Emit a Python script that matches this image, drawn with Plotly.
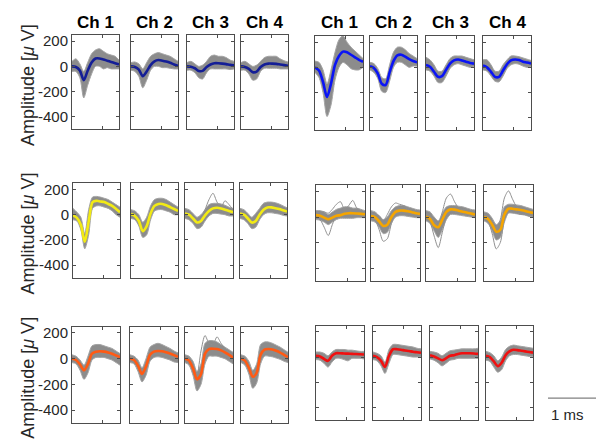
import plotly.graph_objects as go

W, H = 601, 444

# time axis (ms) of each sample
t_ms = [0.0, 0.083, 0.167, 0.25, 0.333, 0.417, 0.5, 0.583, 0.667, 0.75, 0.833, 0.917, 1.0]
channels = ["Ch 1", "Ch 2", "Ch 3", "Ch 4"]
y_ticks = [-400, -200, 0, 200]
y_tick_text = ["-400", "-200", "0", "200"]
y_range = [-500, 250]

# ---- mean waveforms (uV) per channel ----
mean_r1_left = [
    [0, -5, -33, -110, -35, 30, 62, 63, 55, 45, 35, 25, 15],
    [0, -5, -25, -78, -40, 10, 40, 50, 45, 38, 28, 15, 5],
    [0, -3, -15, -36, -36, -5, 15, 25, 25, 22, 18, 12, 8],
    [0, -5, -20, -46, -42, -5, 15, 22, 22, 20, 15, 10, 5],
]
upper_r1_left = [
    [40, 60, 20, -40, 30, 100, 130, 140, 120, 100, 90, 80, 50],
    [30, 35, 20, -20, 30, 80, 100, 110, 100, 90, 80, 60, 40],
    [30, 40, 20, 0, 10, 40, 80, 90, 80, 80, 70, 50, 40],
    [30, 40, 20, 0, 10, 40, 70, 80, 80, 80, 60, 45, 35],
]
lower_r1_left = [
    [-40, -40, -90, -250, -150, -60, 0, 0, -20, -10, -20, -20, -20],
    [-30, -40, -80, -170, -110, -30, 0, 0, -10, -10, -15, -20, -20],
    [-30, -30, -50, -90, -100, -50, -20, -20, -20, -20, -20, -25, -20],
    [-30, -30, -60, -110, -100, -40, -15, -15, -15, -15, -20, -20, -20],
]

mean_r1_right = [
    [0, -25, -115, -235, -130, 20, 90, 125, 120, 100, 80, 60, 45],
    [10, -5, -50, -130, -140, -40, 50, 95, 100, 85, 65, 50, 40],
    [20, 5, -35, -75, -70, -20, 30, 55, 62, 55, 45, 35, 30],
    [15, 0, -35, -75, -75, -25, 25, 55, 62, 58, 45, 38, 30],
]
upper_r1_right = [
    [50, 40, -20, -130, -20, 120, 220, 250, 200, 160, 130, 100, 70],
    [40, 30, -10, -80, -90, 20, 120, 160, 160, 140, 110, 90, 70],
    [80, 60, 20, -30, -30, 20, 70, 90, 90, 90, 80, 70, 60],
    [60, 60, 20, -30, -30, 20, 60, 90, 90, 85, 75, 65, 55],
]
lower_r1_right = [
    [-40, -80, -200, -390, -300, -100, 0, 40, 20, -10, -20, -20, 0],
    [-20, -40, -90, -190, -200, -110, 0, 40, 40, 20, 0, 10, 10],
    [-20, -30, -70, -120, -120, -70, -10, 20, 30, 20, 10, 0, 5],
    [-20, -30, -70, -110, -115, -70, -10, 20, 30, 25, 10, 0, 5],
]

mean_r2_left = [
    [-5, -25, -80, -215, -55, 100, 110, 105, 100, 85, 70, 45, 20],
    [5, -10, -50, -130, -90, 10, 70, 85, 85, 75, 60, 45, 30],
    [10, 0, -30, -62, -50, -5, 30, 50, 55, 50, 40, 30, 20],
    [10, 0, -30, -62, -50, 0, 40, 58, 58, 52, 45, 35, 25],
]
upper_r2_left = [
    [50, 20, -20, -150, 40, 140, 145, 140, 130, 120, 100, 80, 60],
    [40, 30, 0, -60, -20, 70, 120, 130, 130, 120, 100, 80, 60],
    [50, 40, 10, -20, 0, 40, 80, 90, 90, 85, 75, 60, 50],
    [50, 40, 10, -20, 10, 50, 90, 100, 100, 95, 85, 70, 55],
]
lower_r2_left = [
    [-40, -50, -120, -270, -160, 50, 70, 70, 60, 50, 30, 0, -20],
    [-30, -40, -90, -180, -160, -40, 30, 40, 40, 30, 20, 0, 0],
    [-30, -40, -70, -110, -100, -50, -10, 10, 10, 5, 0, -10, -10],
    [-30, -40, -70, -110, -100, -40, 0, 15, 15, 10, 5, -5, -10],
]

mean_r2_right = [
    [15, 10, -5, -18, -5, 10, 15, 25, 30, 30, 28, 25, 22],
    [8, 0, -35, -70, -60, 0, 40, 50, 50, 45, 38, 30, 25],
    [3, -15, -65, -80, -20, 40, 60, 58, 50, 42, 35, 28, 20],
    [0, -15, -60, -115, -100, 20, 65, 65, 60, 55, 48, 40, 32],
]
upper_r2_right = [
    [50, 50, 40, 20, 40, 60, 70, 80, 80, 70, 70, 60, 50],
    [50, 40, 10, -20, 0, 50, 80, 90, 90, 80, 70, 60, 55],
    [50, 40, 0, -30, 30, 80, 90, 90, 85, 80, 70, 60, 55],
    [40, 30, -10, -60, -30, 80, 100, 100, 95, 90, 80, 70, 60],
]
lower_r2_right = [
    [-20, -25, -40, -60, -40, -20, -10, -10, -10, -10, -5, -5, -5],
    [-30, -40, -80, -130, -120, -50, 0, 10, 10, 5, 0, -5, -5],
    [-30, -50, -110, -160, -100, -20, 20, 20, 15, 10, 5, 0, -5],
    [-30, -50, -110, -180, -160, -40, 30, 30, 25, 20, 15, 5, 0],
]

mean_r3_left = [
    [0, -10, -45, -90, -40, 40, 55, 58, 55, 48, 38, 25, 12],
    [0, -10, -55, -118, -60, 30, 55, 60, 58, 50, 40, 28, 15],
    [0, -15, -75, -160, -120, 40, 75, 78, 75, 65, 50, 30, 10],
    [0, -15, -70, -140, -110, 30, 70, 75, 72, 62, 48, 30, 12],
]
upper_r3_left = [
    [30, 20, -10, -50, 20, 100, 110, 110, 100, 90, 80, 60, 40],
    [30, 20, -10, -70, 0, 90, 110, 120, 110, 95, 80, 60, 45],
    [30, 20, -20, -100, -40, 120, 140, 140, 130, 110, 90, 70, 50],
    [30, 20, -20, -90, -40, 110, 130, 130, 120, 105, 90, 70, 50],
]
lower_r3_left = [
    [-30, -40, -90, -160, -110, -10, 10, 10, 10, 0, -10, -30, -50],
    [-30, -40, -100, -180, -130, -20, 10, 15, 10, 0, -10, -25, -30],
    [-30, -50, -130, -250, -200, -40, 20, 20, 20, 10, 0, -20, -40],
    [-30, -50, -120, -230, -190, -40, 20, 20, 15, 5, -5, -20, -30],
]

mean_r3_right = [
    [10, 5, -15, -30, 10, 30, 30, 28, 27, 25, 24, 22, 20],
    [10, 0, -30, -78, 10, 62, 62, 58, 52, 48, 42, 38, 34],
    [15, 5, -10, -25, -10, 10, 15, 25, 30, 30, 30, 28, 25],
    [10, 0, -35, -72, -45, 15, 45, 58, 55, 50, 45, 40, 35],
]
upper_r3_right = [
    [40, 40, 30, 10, 40, 60, 60, 60, 55, 55, 50, 45, 45],
    [40, 30, 10, -40, 60, 100, 100, 95, 90, 85, 80, 70, 65],
    [45, 40, 30, 10, 30, 50, 55, 60, 65, 65, 65, 65, 70],
    [45, 35, 10, -30, 0, 60, 85, 95, 90, 85, 80, 75, 70],
]
lower_r3_right = [
    [-20, -25, -50, -80, -40, -10, -10, -20, -30, -10, -10, -10, -15],
    [-20, -30, -70, -130, -50, 20, 20, 15, 10, 5, 0, 0, 0],
    [-15, -25, -45, -70, -50, -25, -20, -10, -10, -10, -10, -10, -10],
    [-25, -35, -80, -120, -100, -30, 10, 20, 20, 15, 10, 5, 5],
]

# ---- a few visible outlier traces: (row, group, channel) -> traces ----
outliers = {
    (1, 0, 2): [[20, 10, -20, -50, -30, 40, 120, 170, 100, 60, 110, 80, 40]],
    (1, 1, 0): [[0, -20, -80, -145, -60, 10, 20, 30, 20, 10, 10, 10, 10],
                [30, 40, 40, 30, 60, 100, 120, 60, 90, 130, 70, 50, 40]],
    (1, 1, 1): [[0, -20, -100, -190, -170, -50, 30, 60, 80, 60, 40, 30, 20],
                [20, 20, 10, -30, 20, 80, 110, 100, 90, 70, 60, 50, 40]],
    (1, 1, 2): [[0, -40, -150, -240, -120, 0, 40, 40, 30, 20, 20, 10, 10],
                [20, 10, -30, -60, 40, 150, 180, 120, 70, 60, 60, 50, 40]],
    (1, 1, 3): [[0, -30, -130, -250, -200, -20, 50, 40, 30, 20, 20, 10, 10],
                [20, 10, -30, -80, -20, 150, 205, 140, 80, 60, 50, 40, 40]],
    (2, 0, 2): [[10, 0, -40, -120, 60, 180, 120, 110, 170, 120, 80, 50, 30]],
}

means = [[mean_r1_left, mean_r1_right], [mean_r2_left, mean_r2_right], [mean_r3_left, mean_r3_right]]
uppers = [[upper_r1_left, upper_r1_right], [upper_r2_left, upper_r2_right], [upper_r3_left, upper_r3_right]]
lowers = [[lower_r1_left, lower_r1_right], [lower_r2_left, lower_r2_right], [lower_r3_left, lower_r3_right]]
unit_colors = [["#141e96", "#0a14f5"], ["#f2ea14", "#f5a500"], ["#ff5a14", "#f01010"]]

# ---- panel placement (pixels) ----
col_px = [
    [[(72, 119), (131, 178), (187, 234), (241, 288)], [(315, 363), (370, 417), (426, 474), (483, 531)]],
    [[(73, 120), (131, 178), (185, 233), (240, 287)], [(316, 365), (371, 420), (426, 475), (484, 533)]],
    [[(72, 120), (130, 178), (185, 233), (241, 288)], [(316, 364), (373, 421), (430, 478), (486, 533)]],
]
row_px = [[(33, 128), (34, 129)], [(182, 277), (184, 280)], [(326, 423), (325, 420)]]

GRAY = "#8c8c8c"
EDGE = "#a4a4a4"
AX = "#4d4d4d"
FONT = "Liberation Sans, Arial, sans-serif"

fig = go.Figure()
layout = {}
n = 0
for r in range(3):
    for g in range(2):
        y0, y1 = row_px[r][g]
        for c in range(4):
            n += 1
            x0, x1 = col_px[r][g][c]
            xa = "x" if n == 1 else f"x{n}"
            ya = "y" if n == 1 else f"y{n}"
            show_lab = (g == 0 and c == 0)
            layout[f"xaxis{'' if n == 1 else n}"] = dict(
                domain=[x0 / W, x1 / W], range=[0, 1], anchor=ya,
                showline=True, linecolor=AX, linewidth=1, mirror="ticks",
                ticks="inside", ticklen=3, tickcolor=AX, tickvals=[0, 0.645, 1],
                showticklabels=False, showgrid=False, zeroline=False, fixedrange=True)
            layout[f"yaxis{'' if n == 1 else n}"] = dict(
                domain=[1 - y1 / H, 1 - y0 / H], range=y_range, anchor=xa,
                showline=True, linecolor=AX, linewidth=1, mirror="ticks",
                ticks="inside", ticklen=3, tickcolor=AX,
                tickmode="array", tickvals=y_ticks, ticktext=y_tick_text,
                showticklabels=show_lab, tickfont=dict(family=FONT, size=15, color="#262626"),
                showgrid=False, zeroline=False, fixedrange=True)
            lo = lowers[r][g][c]
            up = uppers[r][g][c]
            fig.add_trace(go.Scatter(x=t_ms, y=lo, mode="lines", xaxis=xa, yaxis=ya,
                                     line=dict(color=EDGE, width=1, shape="spline", smoothing=0.8),
                                     hoverinfo="skip", showlegend=False))
            fig.add_trace(go.Scatter(x=t_ms, y=up, mode="lines", xaxis=xa, yaxis=ya,
                                     fill="tonexty", fillcolor=GRAY,
                                     line=dict(color=EDGE, width=1, shape="spline", smoothing=0.8),
                                     hoverinfo="skip", showlegend=False))
            for tr in outliers.get((r, g, c), []):
                fig.add_trace(go.Scatter(x=t_ms, y=tr, mode="lines", xaxis=xa, yaxis=ya,
                                         line=dict(color="#909090", width=1, shape="spline", smoothing=0.8),
                                         hoverinfo="skip", showlegend=False))
            fig.add_trace(go.Scatter(x=t_ms, y=means[r][g][c], mode="lines", xaxis=xa, yaxis=ya,
                                     line=dict(color=unit_colors[r][g], width=2.6, shape="spline", smoothing=0.8),
                                     hoverinfo="skip", showlegend=False))

annotations = []
for g in range(2):
    for c in range(4):
        x0, x1 = col_px[0][g][c]
        annotations.append(dict(text=f"<b>{channels[c]}</b>", x=(x0 + x1) / 2 / W, y=1 - 21 / H,
                                xref="paper", yref="paper", xanchor="center", yanchor="middle",
                                showarrow=False, font=dict(family=FONT, size=17, color="#000000")))
for r in range(3):
    y0, y1 = row_px[r][0]
    annotations.append(dict(text="Amplitude [<i>μ</i> V]", x=28 / W, y=1 - ((y0 + y1) / 2 + 3) / H,
                            xref="paper", yref="paper", xanchor="center", yanchor="middle",
                            textangle=-90, showarrow=False,
                            font=dict(family=FONT, size=18, color="#262626")))
annotations.append(dict(text="1 ms", x=567 / W, y=1 - 414 / H, xref="paper", yref="paper",
                        xanchor="center", yanchor="middle", showarrow=False,
                        font=dict(family=FONT, size=15, color="#262626")))

shapes = [dict(type="line", xref="paper", yref="paper", x0=548 / W, x1=596 / W,
               y0=1 - 398 / H, y1=1 - 398 / H, line=dict(color="#808080", width=1.3))]

fig.update_layout(width=W, height=H, margin=dict(l=0, r=0, t=0, b=0),
                  paper_bgcolor="white", plot_bgcolor="white",
                  annotations=annotations, shapes=shapes, **layout)
fig.write_html("out.html", include_plotlyjs=True, config={"displayModeBar": False})
